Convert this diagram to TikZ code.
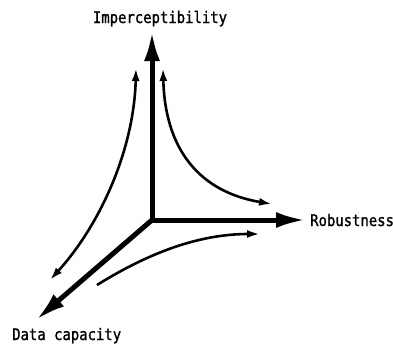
\documentclass[tikz,border=0pt]{standalone}
\usepackage{fontspec}
\newfontfamily\gothicfont[FakeStretch=0.87, FakeBold=1.2]{DejaVu Sans Mono}
\usetikzlibrary{arrows.meta}
\begin{document}
\begin{tikzpicture}[x=1pt, y=-1pt,
    axis/.style={line width=5pt, -{Latex[length=30pt, width=16pt]}},
    trade/.style={line width=2.6pt},
    twoway/.style={{Latex[length=13pt, width=8pt]}-{Latex[length=13pt, width=8pt]}},
    oneway/.style={-{Latex[length=13pt, width=8pt]}},
    label/.style={font=\gothicfont\fontsize{16}{16}\selectfont, inner sep=0pt}]
  \useasboundingbox (0, 0) rectangle (393, 343);

  % axes
  \coordinate (o) at (152, 220);
  \coordinate (imp) at (152, 31);
  \coordinate (rob) at (306, 220);
  \coordinate (cap) at (36, 320);
  \draw[axis] (o) -- (imp);
  \draw[axis] (o) -- (rob);
  \draw[axis] (o) -- (cap);

  \node[label, anchor=base] (implabel) at (160, 23) {Imperceptibility};
  \node[label, anchor=base west] (roblabel) at (310, 226) {Robustness};
  \node[label, anchor=base west] (caplabel) at (12, 340) {Data capacity};

  % trade-off curves
  \coordinate (lt) at (136, 68);
  \coordinate (lb) at (50, 280);
  \coordinate (rt) at (163, 68);
  \coordinate (rr) at (272, 204);
  \coordinate (bl) at (97, 285);
  \coordinate (br) at (260, 234);
  \draw[trade, twoway] (lt) .. controls (134, 150) and (100, 225) .. (lb);
  \draw[trade, twoway] (rt) .. controls (165, 150) and (200, 192) .. (rr);
  \draw[trade, oneway] (bl) .. controls (150, 252) and (200, 234) .. (br);
\end{tikzpicture}
\end{document}
